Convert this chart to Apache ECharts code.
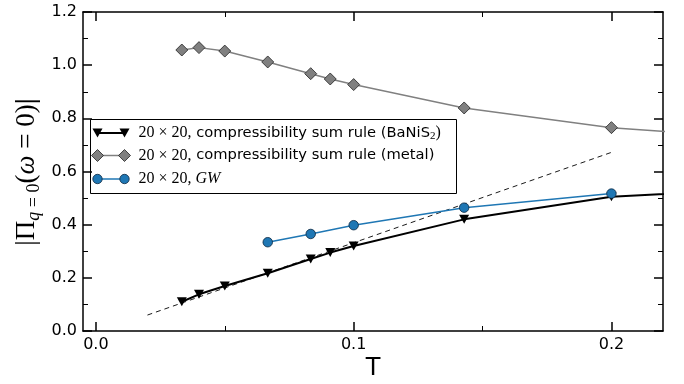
<!DOCTYPE html>
<html>
<head>
<meta charset="utf-8">
<script src="https://cdn.jsdelivr.net/npm/echarts@6/dist/echarts.min.js"></script>
<style>
  html, body { margin: 0; padding: 0; background: #fff; }
  #chart { width: 684px; height: 384px; }
</style>
</head>
<body>
<div id="chart"></div>
<script>
// Temperatures of the 20x20 runs
const tempBaNiS2 = [1/30, 0.04, 0.05, 1/15, 1/12, 1/11, 0.1, 1/7, 0.2, 0.25];
const piBaNiS2   = [0.110, 0.138, 0.169, 0.217, 0.271, 0.295, 0.320, 0.420, 0.505, 0.530];

const tempMetal  = [1/30, 0.04, 0.05, 1/15, 1/12, 1/11, 0.1, 1/7, 0.2, 0.25];
const piMetal    = [1.057, 1.066, 1.053, 1.012, 0.968, 0.948, 0.927, 0.839, 0.765, 0.730];

const tempGW     = [1/15, 1/12, 0.1, 1/7, 0.2];
const piGW       = [0.334, 0.365, 0.398, 0.464, 0.517];

// linear guide
const tempGuide  = [0.02, 0.2];
const piGuide    = [0.060, 0.672];

const xMajorTicks = [0, 0.1, 0.2];
const xMinorTicks = [0.05, 0.15];
const yTickLabels = ['0.0', '0.2', '0.4', '0.6', '0.8', '1.0', '1.2'];

const X_MIN = -0.005, X_MAX = 0.22;
const Y_MIN = 0, Y_MAX = 1.2, Y_STEP = 0.2;

const pairs = (xs, ys) => xs.map((x, i) => [x, ys[i]]);

const SANS = 'DejaVu Sans';
const SERIF = 'Liberation Serif';
const AX = '#000';

function xAxisDef(position, major, showLine, showLabel) {
  return {
    type: 'value', position: position, min: X_MIN, max: X_MAX,
    axisLine: { show: showLine, onZero: false, lineStyle: { color: AX, width: 1.5 } },
    axisTick: {
      show: true, inside: true, length: major ? 9 : 5,
      customValues: major ? xMajorTicks : xMinorTicks,
      lineStyle: { color: AX, width: major ? 1.5 : 1 }
    },
    axisLabel: {
      show: showLabel, customValues: xMajorTicks, margin: 6,
      color: '#000', fontFamily: SANS, fontSize: 16,
      formatter: v => v.toFixed(1)
    },
    splitLine: { show: false }
  };
}

function yAxisDef(position, showLabel) {
  return {
    type: 'value', position: position, min: Y_MIN, max: Y_MAX, interval: Y_STEP,
    axisLine: { show: true, onZero: false, lineStyle: { color: AX, width: 1.5 } },
    axisTick: { show: true, inside: true, length: 9, lineStyle: { color: AX, width: 1.5 } },
    minorTick: { show: true, splitNumber: 2, length: 5, lineStyle: { color: AX, width: 1 } },
    axisLabel: {
      show: showLabel, margin: 6, color: '#000', fontFamily: SANS, fontSize: 16,
      formatter: v => yTickLabels[Math.round(v / Y_STEP)]
    },
    splitLine: { show: false }
  };
}

// legend drawn as a framed box with two-marker samples
const LX = 90, LY = 119, LW = 366, LH = 74;
const rowY = [13.5, 36, 59.5];
const sx0 = 7, sx1 = 34;

function triPts(cx, cy, s) {
  return [[cx - s / 2, cy - s * 0.45], [cx + s / 2, cy - s * 0.45], [cx, cy + s * 0.45]];
}
function diaPts(cx, cy, s) {
  return [[cx, cy - s / 2], [cx + s / 2, cy], [cx, cy + s / 2], [cx - s / 2, cy]];
}

const richLegend = {
  m:  { fontFamily: SERIF, fontSize: 16, lineHeight: 18, color: '#000' },
  mi: { fontFamily: SERIF, fontSize: 16, fontStyle: 'italic', lineHeight: 18, color: '#000' },
  t:  { fontFamily: SANS, fontSize: 14.7, lineHeight: 18, color: '#000' },
  s:  { fontFamily: SERIF, fontSize: 11, lineHeight: 10, verticalAlign: 'bottom', color: '#000' },
  p:  { fontFamily: SERIF, fontSize: 16, lineHeight: 18, color: '#000' }
};

const legendChildren = [
  { type: 'rect', shape: { x: 0, y: 0, width: LW, height: LH },
    style: { fill: '#fff', stroke: '#000', lineWidth: 1 } },
  // BaNiS2
  { type: 'line', shape: { x1: sx0, y1: rowY[0], x2: sx1, y2: rowY[0] }, style: { stroke: '#000', lineWidth: 2 } },
  { type: 'polygon', shape: { points: triPts(sx0, rowY[0], 10) }, style: { fill: '#000' } },
  { type: 'polygon', shape: { points: triPts(sx1, rowY[0], 10) }, style: { fill: '#000' } },
  { type: 'text', x: 48, y: rowY[0], style: {
      text: '{m|20 × 20,}{t| compressibility sum rule (BaNiS}{s|2}{p|)}',
      rich: richLegend, verticalAlign: 'middle' } },
  // metal
  { type: 'line', shape: { x1: sx0, y1: rowY[1], x2: sx1, y2: rowY[1] }, style: { stroke: '#808080', lineWidth: 1.5 } },
  { type: 'polygon', shape: { points: diaPts(sx0, rowY[1], 12) }, style: { fill: '#808080', stroke: '#222', lineWidth: 0.8 } },
  { type: 'polygon', shape: { points: diaPts(sx1, rowY[1], 12) }, style: { fill: '#808080', stroke: '#222', lineWidth: 0.8 } },
  { type: 'text', x: 48, y: rowY[1], style: {
      text: '{m|20 × 20,}{t| compressibility sum rule (metal)}',
      rich: richLegend, verticalAlign: 'middle' } },
  // GW
  { type: 'line', shape: { x1: sx0, y1: rowY[2], x2: sx1, y2: rowY[2] }, style: { stroke: '#1f77b4', lineWidth: 1.5 } },
  { type: 'circle', shape: { cx: sx0, cy: rowY[2], r: 4.7 }, style: { fill: '#1f77b4', stroke: '#0b2740', lineWidth: 0.8 } },
  { type: 'circle', shape: { cx: sx1, cy: rowY[2], r: 4.7 }, style: { fill: '#1f77b4', stroke: '#0b2740', lineWidth: 0.8 } },
  { type: 'text', x: 48, y: rowY[2], style: {
      text: '{m|20 × 20, }{mi|GW}',
      rich: richLegend, verticalAlign: 'middle' } }
];

const chart = echarts.init(document.getElementById('chart'), null, { renderer: 'canvas' });

chart.setOption({
  backgroundColor: '#fff',
  animation: false,
  grid: { left: 83, top: 12, width: 580, height: 319 },
  xAxis: [
    xAxisDef('bottom', true, true, true),
    xAxisDef('bottom', false, false, false),
    xAxisDef('top', true, true, false),
    xAxisDef('top', false, false, false)
  ],
  yAxis: [yAxisDef('left', true), yAxisDef('right', false)],
  graphic: [
    { type: 'group', left: LX, top: LY, z: 100, children: legendChildren },
    // axis titles
    { type: 'text', x: 373, y: 369, z: 100, style: {
        text: 'T', fontFamily: SANS, fontSize: 24, fill: '#000', align: 'center', verticalAlign: 'middle' } },
    { type: 'text', x: 27, y: 172, rotation: Math.PI / 2, z: 100, style: {
        text: '{m||Π}{si|q}{s| = 0}{m|(}{mi|ω}{m| = 0)}{b||}',
        align: 'center', verticalAlign: 'middle',
        rich: {
          m:  { fontFamily: SERIF, fontSize: 27, lineHeight: 32, fill: '#000' },
          b:  { fontFamily: SERIF, fontSize: 27, fontWeight: 'bold', lineHeight: 32, fill: '#000' },
          mi: { fontFamily: SERIF, fontSize: 27, fontStyle: 'italic', lineHeight: 32, fill: '#000' },
          si: { fontFamily: SERIF, fontSize: 18, fontStyle: 'italic', lineHeight: 15, verticalAlign: 'bottom', fill: '#000' },
          s:  { fontFamily: SERIF, fontSize: 18, lineHeight: 15, verticalAlign: 'bottom', fill: '#000' }
        } } }
  ],
  series: [
    {
      name: 'BaNiS2', type: 'line', data: pairs(tempBaNiS2, piBaNiS2),
      symbol: 'triangle', symbolRotate: 180, symbolSize: [10, 9],
      lineStyle: { color: '#000', width: 2 },
      itemStyle: { color: '#000' }, z: 3
    },
    {
      name: 'metal', type: 'line', data: pairs(tempMetal, piMetal),
      symbol: 'diamond', symbolSize: [12, 12],
      lineStyle: { color: '#808080', width: 1.5 },
      itemStyle: { color: '#808080', borderColor: '#222', borderWidth: 0.8 }, z: 3
    },
    {
      name: 'guide', type: 'line', data: pairs(tempGuide, piGuide),
      symbol: 'none', lineStyle: { color: '#000', width: 0.9, type: [5, 4] }, z: 4
    },
    {
      name: 'GW', type: 'line', data: pairs(tempGW, piGW),
      symbol: 'circle', symbolSize: 9.5,
      lineStyle: { color: '#1f77b4', width: 1.5 },
      itemStyle: { color: '#1f77b4', borderColor: '#0b2740', borderWidth: 0.8 }, z: 5
    }
  ]
});
</script>
</body>
</html>
